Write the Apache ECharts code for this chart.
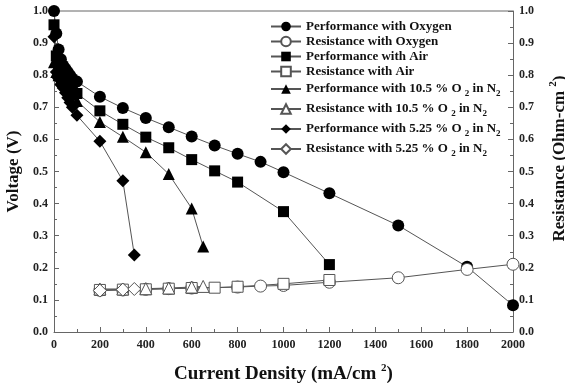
<!DOCTYPE html>
<html><head><meta charset="utf-8">
<script src="https://cdn.jsdelivr.net/npm/echarts@6/dist/echarts.min.js"></script>
<style>html,body{margin:0;padding:0;background:#fff}#c{width:565px;height:390px}</style>
</head><body><div id="c"></div>
<script>
// ---- data ----
const xO2Perf = [0, 10, 20, 30, 40, 50, 60, 70, 80, 100, 200, 300, 400, 500, 600, 700, 800, 900, 1000, 1200, 1500, 1800, 2000];
const yO2Perf = [1.0, 0.93, 0.88, 0.85, 0.83, 0.82, 0.81, 0.80, 0.79, 0.78, 0.733, 0.698, 0.667, 0.638, 0.609, 0.581, 0.555, 0.530, 0.498, 0.432, 0.332, 0.203, 0.083];
const xO2Res = [200, 300, 400, 500, 600, 800, 900, 1000, 1200, 1500, 1800, 2000];
const yO2Res = [0.130, 0.131, 0.133, 0.135, 0.137, 0.140, 0.143, 0.145, 0.155, 0.169, 0.195, 0.211];

const xAirPerf = [0, 10, 20, 30, 40, 50, 60, 70, 80, 100, 200, 300, 400, 500, 600, 700, 800, 1000, 1200];
const yAirPerf = [0.957, 0.86, 0.83, 0.81, 0.80, 0.79, 0.78, 0.77, 0.76, 0.743, 0.689, 0.647, 0.607, 0.574, 0.537, 0.502, 0.467, 0.375, 0.210];
const xAirRes = [200, 300, 400, 500, 600, 700, 800, 1000, 1200];
const yAirRes = [0.131, 0.132, 0.133, 0.135, 0.137, 0.138, 0.141, 0.150, 0.162];

const x105Perf = [0, 10, 20, 30, 40, 50, 60, 70, 80, 100, 200, 300, 400, 500, 600, 650];
const y105Perf = [0.84, 0.81, 0.80, 0.79, 0.78, 0.77, 0.76, 0.75, 0.74, 0.72, 0.654, 0.608, 0.560, 0.492, 0.385, 0.266];
const x105Res = [200, 300, 400, 500, 600, 650];
const y105Res = [0.134, 0.134, 0.135, 0.137, 0.140, 0.142];

const x525Perf = [0, 10, 20, 30, 40, 50, 60, 70, 80, 100, 200, 300, 350];
const y525Perf = [0.92, 0.81, 0.79, 0.77, 0.76, 0.745, 0.73, 0.715, 0.70, 0.675, 0.594, 0.471, 0.240];
const x525Res = [200, 300, 350];
const y525Res = [0.129, 0.132, 0.134];

const seriesNames = [
  'Performance with Oxygen',
  'Resistance with Oxygen',
  'Performance with Air',
  'Resistance with Air',
  'Performance with 10.5 % O 2 in N 2',
  'Resistance with 10.5 % O 2 in N 2',
  'Performance with 5.25 % O 2 in N 2',
  'Resistance with 5.25 % O 2 in N 2'
];
const xTicks = [0, 200, 400, 600, 800, 1000, 1200, 1400, 1600, 1800, 2000];
const yTicks = [0.0, 0.1, 0.2, 0.3, 0.4, 0.5, 0.6, 0.7, 0.8, 0.9, 1.0];

// ---- chart ----
const zip = (xs, ys) => xs.map((x, i) => [x, ys[i]]);
const FONT = '"Liberation Serif", "Times New Roman", serif';
const lineCol = '#555';

function mk(name, xs, ys, symbol, filled, axis, size) {
  return {
    name, type: 'line', yAxisIndex: axis, data: zip(xs, ys),
    symbol, symbolSize: size, showSymbol: true,
    lineStyle: { color: lineCol, width: 1 },
    itemStyle: filled ? { color: '#000', borderColor: '#000', borderWidth: 0 }
                      : { color: '#fff', borderColor: '#555', borderWidth: 1 },
    emphasis: { disabled: true }, animation: false
  };
}

const series = [
  mk(seriesNames[0], xO2Perf, yO2Perf, 'circle', true, 0, 12),
  mk(seriesNames[1], xO2Res, yO2Res, 'circle', false, 1, 12),
  mk(seriesNames[2], xAirPerf, yAirPerf, 'rect', true, 0, 11),
  mk(seriesNames[3], xAirRes, yAirRes, 'rect', false, 1, 11),
  mk(seriesNames[4], x105Perf, y105Perf, 'triangle', true, 0, 12),
  mk(seriesNames[5], x105Res, y105Res, 'triangle', false, 1, 12),
  mk(seriesNames[6], x525Perf, y525Perf, 'diamond', true, 0, 13),
  mk(seriesNames[7], x525Res, y525Res, 'diamond', false, 1, 13)
];

const legendFmt = n => n.replace(/ O 2 in N 2/, ' O {sub|2} in N{sub|2}');

const axisLabel = { fontFamily: FONT, fontWeight: 'bold', fontSize: 12, color: '#222' };

const chart = echarts.init(document.getElementById('c'), null, { renderer: 'canvas' });
chart.setOption({
  animation: false,
  backgroundColor: '#fff',
  grid: { left: 54, right: 52, top: 11, bottom: 58, show: false, containLabel: false, outerBoundsMode: 'none' },
  legend: {
    orient: 'vertical', left: 265, top: 15, itemGap: 2,
    itemWidth: 30, itemHeight: 12,
    data: seriesNames,
    formatter: legendFmt,
    textStyle: {
      fontFamily: FONT, fontWeight: 'bold', fontSize: 13, color: '#111',
      rich: { sub: { fontFamily: FONT, fontWeight: 'bold', fontSize: 9, lineHeight: 19, padding: [9, 0, 0, 0] } }
    },
    selectedMode: false
  },
  xAxis: {
    type: 'value', min: 0, max: 2000, interval: 200,
    name: 'Current Density (mA/cm {sup|2})', nameLocation: 'middle', nameGap: 31,
    nameTextStyle: { fontFamily: FONT, fontWeight: 'bold', fontSize: 19, color: '#111',
      rich: { sup: { fontFamily: FONT, fontWeight: 'bold', fontSize: 11, padding: [0, 0, 12, 0] } } },
    axisLine: { show: true, lineStyle: { color: '#666', width: 1 } },
    axisTick: { inside: true, length: 5, lineStyle: { color: '#666' } },
    minorTick: { show: true, splitNumber: 2, length: 3, lineStyle: { color: '#666' } },
    axisLabel: Object.assign({ margin: 7, formatter: v => String(v) }, axisLabel),
    splitLine: { show: false }
  },
  yAxis: [
    {
      type: 'value', min: 0, max: 1.0, interval: 0.1, position: 'left',
      name: 'Voltage (V)', nameLocation: 'middle', nameGap: 30, nameRotate: 90,
      nameTextStyle: { fontFamily: FONT, fontWeight: 'bold', fontSize: 17, color: '#111' },
      axisLine: { show: true, lineStyle: { color: '#666', width: 1 } },
      axisTick: { show: true, inside: true, length: 5, lineStyle: { color: '#666' } },
      minorTick: { show: true, splitNumber: 2, length: 3, lineStyle: { color: '#666' } },
      axisLabel: Object.assign({ margin: 6, formatter: v => v.toFixed(1) }, axisLabel),
      splitLine: { show: false }
    },
    {
      type: 'value', min: 0, max: 1.0, interval: 0.1, position: 'right',
      name: 'Resistance (Ohm-cm {sup|2})', nameLocation: 'middle', nameGap: 35, nameRotate: 90,
      nameTextStyle: { fontFamily: FONT, fontWeight: 'bold', fontSize: 17, color: '#111',
        padding: [0, 0, 0, 26],
        rich: { sup: { fontFamily: FONT, fontWeight: 'bold', fontSize: 11, padding: [0, 0, 12, 0] } } },
      axisLine: { show: true, lineStyle: { color: '#666', width: 1 } },
      axisTick: { show: true, inside: true, length: 5, lineStyle: { color: '#666' } },
      minorTick: { show: true, splitNumber: 2, length: 3, lineStyle: { color: '#666' } },
      axisLabel: Object.assign({ margin: 6, formatter: v => v.toFixed(1) }, axisLabel),
      splitLine: { show: false }
    }
  ],
  graphic: [],
  series: series
});
// top border of the plot frame
const topY = chart.convertToPixel({ yAxisIndex: 0 }, 1.0);
const x0 = chart.convertToPixel({ xAxisIndex: 0 }, 0);
const x1 = chart.convertToPixel({ xAxisIndex: 0 }, 2000);
chart.setOption({ graphic: [{ type: 'line', shape: { x1: x0, y1: topY, x2: x1, y2: topY }, style: { stroke: '#666', lineWidth: 1 }, z: 0 }] });
</script></body></html>
